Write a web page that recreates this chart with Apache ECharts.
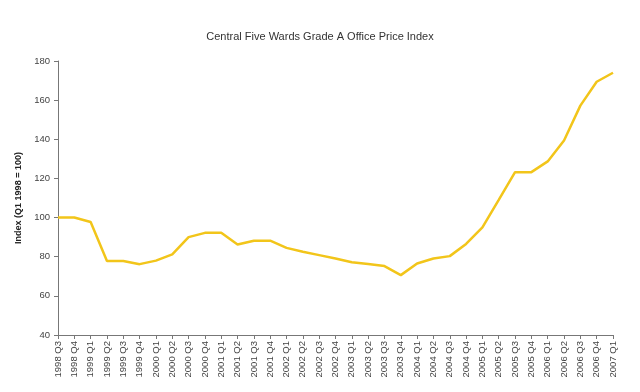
<!DOCTYPE html>
<html>
<head>
<meta charset="utf-8">
<script src="https://cdn.jsdelivr.net/npm/echarts@6/dist/echarts.min.js"></script>
<style>html,body{margin:0;padding:0;background:#fff}#c{width:640px;height:392px}</style>
</head>
<body>
<div id="c"></div>
<script>
var titleText = 'Central Five Wards Grade A Office Price Index';
var yAxisName = 'Index (Q1 1998 = 100)';
var categories = ['1998 Q3','1998 Q4','1999 Q1','1999 Q2','1999 Q3','1999 Q4','2000 Q1','2000 Q2','2000 Q3','2000 Q4','2001 Q1','2001 Q2','2001 Q3','2001 Q4','2002 Q1','2002 Q2','2002 Q3','2002 Q4','2003 Q1','2003 Q2','2003 Q3','2003 Q4','2004 Q1','2004 Q2','2004 Q3','2004 Q4','2005 Q1','2005 Q2','2005 Q3','2005 Q4','2006 Q1','2006 Q2','2006 Q3','2006 Q4','2007 Q1'];
var indexValues = [100,100,97.7,77.8,77.8,76.2,78,81.2,90,92.2,92.2,86.2,88.2,88.2,84.5,82.5,80.8,79.1,77.2,76.3,75.2,70.6,76.5,79.1,80.3,86.5,95,109,123.2,123.2,128.7,139.4,157.2,169.4,174];
var yMin = 40, yMax = 180, yStep = 20;

var chart = echarts.init(document.getElementById('c'));
chart.setOption({
  backgroundColor: '#ffffff',
  animation: false,
  title: {
    text: titleText,
    left: 'center',
    top: 26,
    textStyle: { fontFamily: 'Liberation Sans, Arial, sans-serif', fontSize: 11, fontWeight: 'normal', color: '#333' }
  },
  grid: { left: 58, right: 27, top: 61, bottom: 57, containLabel: false },
  xAxis: {
    type: 'category',
    data: categories,
    boundaryGap: false,
    axisLine: { lineStyle: { color: '#777', width: 1 } },
    axisTick: { show: true, length: 4, lineStyle: { color: '#777' } },
    axisLabel: { rotate: 90, interval: 0, fontSize: 9.5, color: '#444', fontFamily: 'Liberation Sans, Arial, sans-serif', margin: 6 },
    splitLine: { show: false }
  },
  yAxis: {
    type: 'value',
    min: yMin, max: yMax, interval: yStep,
    name: yAxisName,
    nameLocation: 'middle',
    nameGap: 31,
    nameTextStyle: { fontSize: 9, fontWeight: 'bold', color: '#222', fontFamily: 'Liberation Sans, Arial, sans-serif' },
    axisLine: { show: true, lineStyle: { color: '#777', width: 1 } },
    axisTick: { show: true, length: 4, lineStyle: { color: '#777' } },
    axisLabel: { fontSize: 9.5, color: '#444', fontFamily: 'Liberation Sans, Arial, sans-serif', margin: 8 },
    splitLine: { show: false }
  },
  series: [{
    type: 'line',
    data: indexValues,
    symbol: 'none',
    lineStyle: { color: '#F2C51A', width: 2.5 },
    itemStyle: { color: '#F2C51A' }
  }]
});
</script>
</body>
</html>
